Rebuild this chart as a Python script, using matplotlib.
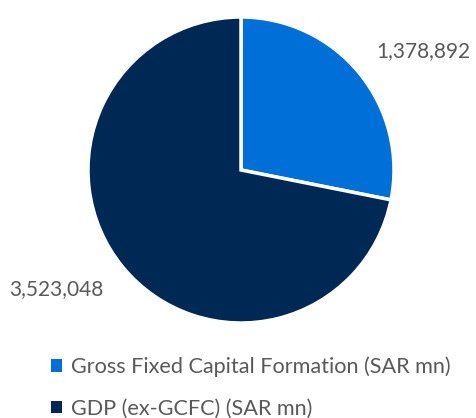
import matplotlib.pyplot as plt
from matplotlib.patches import Patch

plt.rcParams['font.family'] = ['Lato', 'DejaVu Sans']

labels = ["Gross Fixed Capital Formation (SAR mn)", "GDP (ex-GCFC) (SAR mn)"]
values = [1378892, 3523048]
colors = ["#0070d8", "#002855"]
text_grey = "#595959"

fig = plt.figure(figsize=(4.76, 4.18), dpi=100)
# pie centre at (241, 170) px, radius 153 px
ax = fig.add_axes([(241 - 153) / 476, (418 - 170 - 153) / 418, 306 / 476, 306 / 418])
wedges, _ = ax.pie(values, colors=colors, startangle=90, counterclock=False,
                   wedgeprops=dict(edgecolor="white", linewidth=2.5))
ax.set_xlim(-1, 1)
ax.set_ylim(-1, 1)

# value labels beside each slice
label_pos = [(1.19, 0.78), (-1.21, -0.78)]
for (x, y), v in zip(label_pos, values):
    ax.text(x, y, f"{v:,}", ha="center", va="center", fontsize=15,
            color=text_grey, clip_on=False)

handles = [Patch(facecolor=c, edgecolor="none") for c in colors]
fig.legend(handles, labels, loc="upper left", bbox_to_anchor=(42 / 476, 1 - 348 / 418),
           frameon=False, fontsize=15.6, labelcolor=text_grey,
           handlelength=0.5, handleheight=0.5, handletextpad=0.45, labelspacing=1.0,
           borderaxespad=0)

fig.savefig("out.png", dpi=100)
